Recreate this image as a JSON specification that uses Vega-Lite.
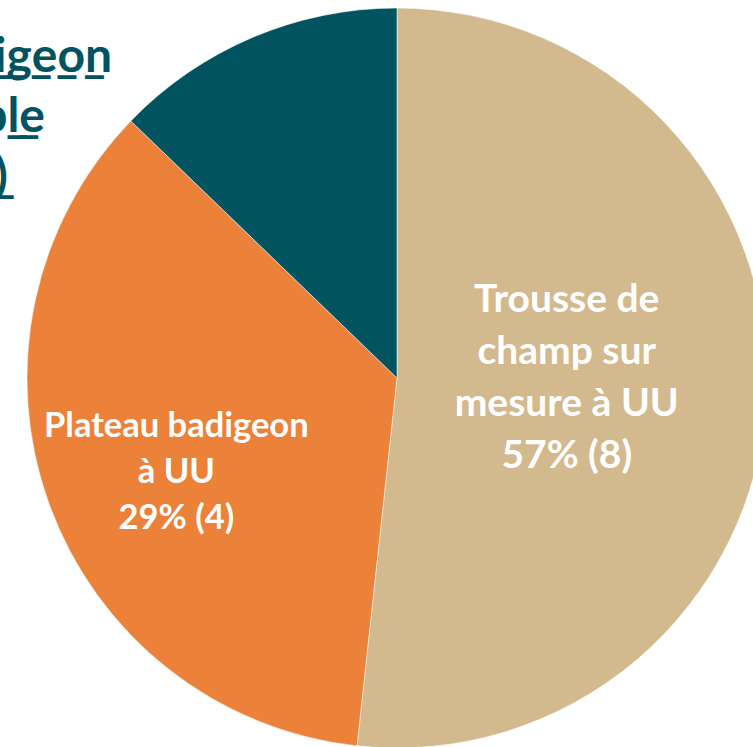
{
  "$schema": "https://vega.github.io/schema/vega-lite/v6.json",
  "width": 794,
  "height": 756,
  "padding": 0,
  "autosize": {"type": "none"},
  "background": "white",
  "view": {"stroke": null},
  "data": {
    "values": [
      {"cat": "Trousse de champ sur mesure à UU", "value": 186.2, "rank": 1, "label": "Trousse de\nchamp sur\nmesure à UU\n57% (8)"},
      {"cat": "Plateau badigeon à UU", "value": 127.8, "rank": 2, "label": "Plateau badigeon\nà UU\n29% (4)"},
      {"cat": "Plateau badigeon réutilisable", "value": 46.0, "rank": 3, "label": "P\u0332l\u0332a\u0332t\u0332e\u0332a\u0332u\u0332 \u0332b\u0332a\u0332d\u0332i\u0332g\u0332e\u0332o\u0332n\nr\u0332é\u0332u\u0332t\u0332i\u0332l\u0332i\u0332s\u0332a\u0332b\u0332l\u0332e\n1\u03324\u0332%\u0332 \u0332(\u03322\u0332)"}
    ]
  },
  "encoding": {
    "theta": {"field": "value", "type": "quantitative", "stack": true},
    "order": {"field": "rank", "type": "quantitative"}
  },
  "layer": [
    {
      "mark": {"type": "arc", "outerRadius": 370, "stroke": "white", "strokeWidth": 0.5},
      "encoding": {
        "color": {
          "field": "cat",
          "type": "nominal",
          "scale": {
            "domain": ["Trousse de champ sur mesure à UU", "Plateau badigeon à UU", "Plateau badigeon réutilisable"],
            "range": ["#D3B98E", "#EC823A", "#00535F"]
          },
          "legend": null
        }
      }
    },
    {
      "mark": {"type": "text", "radius": 170, "dy": -87, "font": "Lato", "fontWeight": "bold", "fontSize": 39, "color": "white", "lineBreak": "\n", "lineHeight": 52, "align": "center", "baseline": "middle"},
      "encoding": {"text": {"condition": {"test": "datum.rank === 1", "field": "label", "type": "nominal"}, "value": ""}}
    },
    {
      "mark": {"type": "text", "radius": 240, "dx": 5, "dy": -33, "font": "Lato", "fontWeight": "bold", "fontSize": 34.5, "color": "white", "lineBreak": "\n", "lineHeight": 46, "align": "center", "baseline": "middle"},
      "encoding": {"text": {"condition": {"test": "datum.rank === 2", "field": "label", "type": "nominal"}, "value": ""}}
    },
    {
      "mark": {"type": "text", "radius": 480, "dx": -282, "dy": 122, "font": "Lato", "fontWeight": "bold", "fontSize": 48, "color": "#00535F", "lineBreak": "\n", "lineHeight": 60, "align": "center", "baseline": "middle"},
      "encoding": {"text": {"condition": {"test": "datum.rank === 3", "field": "label", "type": "nominal"}, "value": ""}}
    }
  ]
}
